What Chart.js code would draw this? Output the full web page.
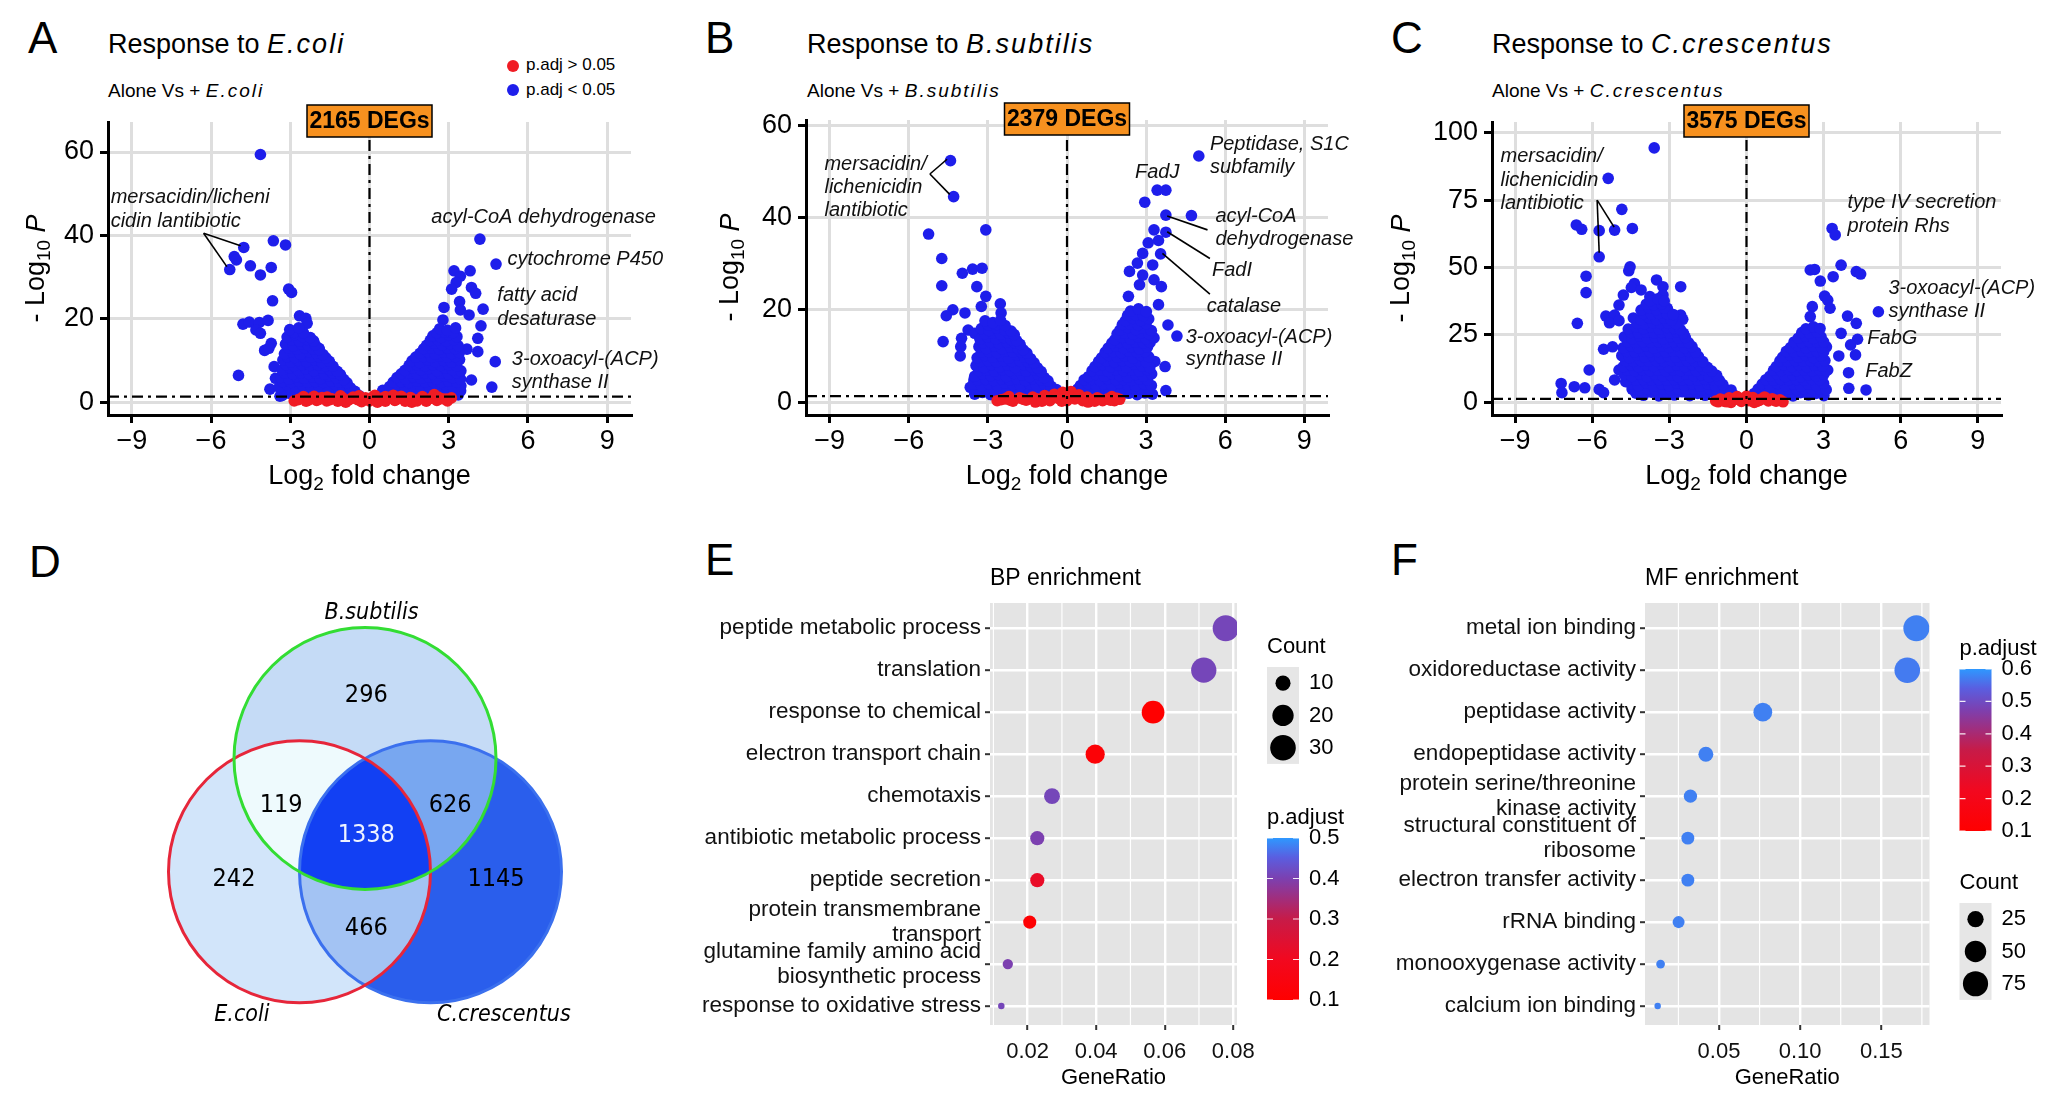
<!DOCTYPE html>
<html>
<head>
<meta charset="utf-8">
<script src="https://cdn.jsdelivr.net/npm/chart.js@4.4.1/dist/chart.umd.min.js"></script>
<style>
  body { margin: 0; background: #fff; }
  #fig { position: relative; width: 2048px; height: 1095px; overflow: hidden; background: #fff;
         font-family: "Liberation Sans", Arial, Helvetica, sans-serif; color: #000; }
  #fig canvas, #fig .t { position: absolute; }
  .t { white-space: nowrap; }
  .lt { font-size: 44px; height: 50px; line-height: 50px; }
  .ttl { font-size: 27px; height: 34px; line-height: 34px; }
  .sub { font-size: 19px; height: 24px; line-height: 24px; }
  .ttl i, .sub i { letter-spacing: 2px; }
  .leg { font-size: 17px; height: 22px; line-height: 22px; }
  .dot { width: 12px; height: 12px; border-radius: 50%; }
</style>
</head>
<body>
<div id="fig">
  <!-- panel headers -->
  <div class="t lt" style="left:28px;top:13px">A</div>
  <div class="t ttl" style="left:108px;top:27px">Response to <i>E.coli</i></div>
  <div class="t sub" style="left:108px;top:79px">Alone Vs + <i>E.coli</i></div>
  <div class="t dot" style="left:507px;top:60px;background:rgb(240,28,36)"></div>
  <div class="t leg" style="left:526px;top:54px">p.adj &gt; 0.05</div>
  <div class="t dot" style="left:507px;top:84px;background:rgb(30,30,235)"></div>
  <div class="t leg" style="left:526px;top:79px">p.adj &lt; 0.05</div>

  <div class="t lt" style="left:705px;top:13px">B</div>
  <div class="t ttl" style="left:807px;top:27px">Response to <i>B.subtilis</i></div>
  <div class="t sub" style="left:807px;top:79px">Alone Vs + <i>B.subtilis</i></div>

  <div class="t lt" style="left:1391px;top:13px">C</div>
  <div class="t ttl" style="left:1492px;top:27px">Response to <i>C.crescentus</i></div>
  <div class="t sub" style="left:1492px;top:79px">Alone Vs + <i>C.crescentus</i></div>

  <div class="t lt" style="left:29px;top:537px">D</div>
  <div class="t lt" style="left:705px;top:535px">E</div>
  <div class="t lt" style="left:1391px;top:535px">F</div>

  <canvas id="volA" width="680" height="520" style="left:0;top:0"></canvas>
  <canvas id="volB" width="690" height="520" style="left:680px;top:0"></canvas>
  <canvas id="volC" width="688" height="520" style="left:1360px;top:0"></canvas>
  <canvas id="venn" width="524" height="524" style="left:103px;top:572px"></canvas>
  <canvas id="dotBP" width="680" height="535" style="left:690px;top:560px"></canvas>
  <canvas id="dotMF" width="678" height="535" style="left:1370px;top:560px"></canvas>
</div>

<script>
// ---------- data: volcano plots (log2 fold change, -log10 P) ----------
const lfcTicks = [-9, -6, -3, 0, 3, 6, 9];
const degCounts = [2165, 2379, 3575];
const padjCut = 1.3; // -log10(0.05)

// A: E.coli
const ecoliSig = [
  [-4.13,59.4],[-4.76,37.1],[-3.64,38.7],[-3.18,37.7],[-5.12,34.9],[-5.04,34.1],[-5.29,31.8],[-4.51,32.7],
  [-3.72,32.3],[-4.13,30.5],[-3.06,27.1],[-2.95,26.3],[-3.67,24.3],[-4.79,18.7],[-4.55,19.2],[-4.17,19.1],
  [-3.84,19.6],[-4.30,17.3],[-4.13,16.5],[-3.72,14.1],[-3.97,12.4],[-3.81,12.9],[-4.96,6.4],[-3.61,8.5],
  [-3.56,5.7],[-3.77,3.1],[-3.39,1.4],[-2.65,20.7],[-2.41,20.1],[-2.36,18.9],[-2.16,14.5],[-1.91,12.9],
  [-3.30,1.6],[-3.02,2.1],[-2.71,1.5],[-2.43,1.9],[-2.12,1.7],[-1.80,2.2],[-1.52,1.5],[-1.21,1.8],[-0.93,1.6],[-0.64,2.0],[-0.38,1.5],
  [-3.25,2.9],[-2.95,2.7],[-2.65,3.0],[-2.35,2.8],[-2.05,2.9],[-1.75,2.7],[-1.45,3.0],[-1.15,2.8],[-0.85,2.7],[-0.55,2.6],
  [-3.42,3.6],[-3.12,4.1],[-2.80,3.7],[-2.52,4.0],[-2.20,3.5],[-1.92,3.9],[-1.61,3.6],[-1.30,4.2],[-1.01,3.7],[-0.72,3.4],
  [-3.28,4.9],[-2.97,4.7],[-2.66,5.0],[-2.35,4.8],[-2.05,4.9],[-1.75,4.7],[-1.45,5.0],[-1.15,4.8],[-0.85,4.6],
  [-3.36,5.9],[-3.05,5.5],[-2.76,6.1],[-2.47,5.7],[-2.14,6.0],[-1.86,5.6],[-1.54,6.2],[-1.26,5.8],[-0.97,5.4],
  [-3.20,6.9],[-2.90,6.7],[-2.60,7.0],[-2.30,6.8],[-2.00,6.9],[-1.70,6.7],[-1.40,7.0],[-1.10,6.6],
  [-3.31,7.7],[-3.01,8.2],[-2.69,7.6],[-2.41,8.0],[-2.10,7.5],[-1.79,8.1],[-1.50,7.7],[-1.22,7.4],
  [-3.15,8.9],[-2.85,8.7],[-2.55,9.0],[-2.25,8.8],[-1.95,8.9],[-1.65,8.7],[-1.38,8.6],
  [-3.28,10.1],[-2.98,9.6],[-2.70,10.0],[-2.38,9.7],[-2.08,10.2],[-1.80,9.5],[-1.52,9.8],
  [-3.12,10.9],[-2.82,10.7],[-2.52,11.0],[-2.22,10.8],[-1.92,10.9],[-1.65,10.6],
  [-3.22,11.6],[-2.91,12.0],[-2.62,11.5],[-2.30,12.1],[-2.01,11.7],[-1.76,11.4],
  [-3.05,12.9],[-2.75,12.7],[-2.45,13.0],[-2.15,12.8],[-1.90,12.6],
  [-3.18,13.9],[-2.88,13.5],[-2.59,14.0],[-2.31,13.6],[-2.06,13.8],
  [-2.95,14.9],[-2.65,14.7],[-2.35,15.0],[-2.12,14.7],
  [-3.12,15.6],[-2.81,16.1],[-2.52,15.7],[-2.24,15.5],[-2.85,16.7],[-2.50,16.6],[-3.02,17.4],[-2.68,17.8],
  [4.18,39.1],[4.79,33.1],[3.20,31.5],[3.81,31.5],[3.44,30.2],[3.28,28.7],[3.11,27.1],[3.86,27.5],
  [4.02,26.1],[4.30,22.3],[2.82,22.7],[3.41,24.1],[3.44,22.1],[4.22,18.3],[3.77,20.9],[4.10,15.3],
  [4.10,12.1],[4.76,9.7],[3.86,5.3],[4.63,3.6],[3.69,12.7],[2.78,19.7],
  [0.36,1.6],[0.66,2.0],[0.95,1.5],[1.24,1.9],[1.56,1.6],[1.85,2.1],[2.14,1.5],[2.46,1.8],[2.75,1.6],[3.04,2.0],[3.36,1.7],
  [0.50,2.8],[0.80,2.9],[1.10,2.7],[1.40,3.0],[1.70,2.8],[2.00,2.9],[2.30,2.7],[2.60,3.0],[2.90,2.8],[3.20,2.9],[3.45,2.7],
  [0.76,3.7],[1.05,4.1],[1.36,3.6],[1.64,3.9],[1.96,3.5],[2.24,4.0],[2.56,3.7],[2.85,4.2],[3.16,3.6],[3.46,3.9],
  [0.90,4.8],[1.20,4.9],[1.50,4.7],[1.80,5.0],[2.10,4.8],[2.40,4.9],[2.70,4.7],[3.00,5.0],[3.30,4.8],
  [1.04,5.9],[1.36,5.5],[1.65,6.1],[1.94,5.7],[2.26,6.0],[2.54,5.5],[2.86,6.2],[3.15,5.8],[3.45,5.5],
  [1.20,6.8],[1.50,6.9],[1.80,6.7],[2.10,7.0],[2.40,6.8],[2.70,6.9],[3.00,6.7],[3.30,7.0],
  [1.34,7.6],[1.66,8.1],[1.95,7.7],[2.24,8.0],[2.56,7.5],[2.85,8.2],[3.14,7.8],[3.46,7.5],
  [1.50,8.8],[1.80,8.9],[2.10,8.7],[2.40,9.0],[2.70,8.8],[3.00,8.9],[3.30,8.7],
  [1.61,9.9],[1.90,9.5],[2.21,10.1],[2.50,9.7],[2.81,10.0],[3.10,9.6],[3.41,10.2],
  [1.75,10.8],[2.05,10.9],[2.35,10.7],[2.65,11.0],[2.95,10.8],[3.25,10.9],
  [1.91,11.7],[2.21,12.1],[2.49,11.5],[2.80,12.0],[3.11,11.6],[3.40,11.9],
  [2.05,12.8],[2.35,12.9],[2.65,12.7],[2.95,13.0],[3.25,12.8],
  [2.16,13.6],[2.45,14.1],[2.76,13.7],[3.05,14.0],[3.36,13.5],
  [2.30,14.8],[2.60,14.9],[2.90,14.7],[3.20,15.0],
  [2.40,15.9],[2.71,15.5],[3.00,16.1],[3.31,15.7],[2.55,16.6],[2.85,16.8],[3.15,16.6],
  [2.66,17.6],[2.95,17.2],[3.26,17.8]
];
const ecoliNs = [
  [-2.85,0.3],[-2.62,0.8],[-2.40,0.2],[-2.20,0.9],[-2.00,0.4],[-1.80,1.1],[-1.62,0.3],[-1.42,0.8],
  [-1.20,0.2],[-1.02,1.0],[-0.82,0.4],[-0.62,1.2],[-0.45,0.6],[-0.30,0.1],[-0.15,1.0],[0.00,0.3],
  [0.12,1.2],[0.28,0.5],[0.44,0.9],[0.60,0.2],[0.78,1.1],[0.96,0.4],[1.15,0.9],[1.35,0.2],
  [1.55,1.1],[1.75,0.5],[1.95,0.9],[2.15,0.2],[2.35,1.0],[2.55,0.4],[2.75,0.8],[2.95,0.3],
  [3.10,1.0],[-2.50,1.3],[-1.10,1.5],[0.90,1.6],[2.45,1.8],[1.60,0.0],[-0.90,0.0],[0.30,0.0],
  [-2.70,0.6],[-2.30,0.5],[-1.90,0.7],[-1.50,0.6],[-1.10,0.5],[-0.70,0.8],[-0.40,1.5],[0.20,1.6],
  [0.60,1.3],[1.00,0.6],[1.40,0.6],[1.80,0.3],[2.20,0.6],[2.60,1.2],[2.90,0.7],[-2.10,1.4],
  [-1.60,1.2],[1.20,1.4],[2.00,1.3]
];
const ecoliNotes = [
  ['mersacidin/licheni', -9.8, 49.0], ['cidin lantibiotic', -9.8, 43.4],
  ['acyl-CoA dehydrogenase', 2.34, 44.3], ['cytochrome P450', 5.22, 34.2],
  ['fatty acid', 4.84, 25.5], ['desaturase', 4.84, 19.9],
  ['3-oxoacyl-(ACP)', 5.39, 10.3], ['synthase II', 5.39, 4.7]
];
const ecoliLinks = [[-6.28, 40.5, -4.88, 37.5], [-6.28, 40.5, -5.40, 32.5]];

// B: B.subtilis
const bsubSig = [
  [-4.42,52.3],[-4.30,44.5],[-5.25,36.4],[-3.08,37.3],[-4.75,31.1],[-3.97,27.9],[-3.58,28.8],[-3.22,29.0],
  [-4.75,25.2],[-3.42,25.0],[-4.33,20.0],[-4.58,18.7],[-3.87,19.3],[-3.25,20.7],[-3.08,22.9],[-2.53,21.3],
  [-2.50,19.3],[-4.70,13.1],[-3.75,15.6],[-4.00,13.8],[-4.03,12.0],[-4.05,10.0],[-3.50,14.9],[-3.67,3.2],[-3.53,4.8],
  [-3.50,1.7],[-3.21,2.1],[-2.90,1.6],[-2.61,2.0],[-2.30,1.5],[-2.01,1.9],[-1.70,1.6],[-1.41,2.1],[-1.10,1.5],[-0.81,1.9],[-0.52,1.6],[-0.26,2.0],
  [-3.35,2.8],[-3.05,2.9],[-2.75,2.7],[-2.45,3.0],[-2.15,2.8],[-1.85,2.9],[-1.55,2.7],[-1.25,3.0],[-0.95,2.8],[-0.65,2.9],[-0.40,2.7],
  [-3.55,3.9],[-3.24,3.5],[-2.96,4.0],[-2.64,3.6],[-2.35,4.1],[-2.04,3.7],[-1.76,3.5],[-1.44,4.0],[-1.16,3.6],[-0.86,3.9],[-0.60,3.4],
  [-3.38,4.8],[-3.08,4.9],[-2.78,4.7],[-2.48,5.0],[-2.18,4.8],[-1.88,4.9],[-1.58,4.7],[-1.28,5.0],[-0.98,4.8],[-0.72,4.6],
  [-3.50,5.6],[-3.21,6.1],[-2.89,5.7],[-2.61,6.0],[-2.30,5.5],[-2.01,6.2],[-1.69,5.8],[-1.41,5.5],[-1.10,6.0],[-0.86,5.3],
  [-3.35,6.8],[-3.05,6.9],[-2.75,6.7],[-2.45,7.0],[-2.15,6.8],[-1.85,6.9],[-1.55,6.7],[-1.25,7.0],[-0.98,6.6],
  [-3.45,7.9],[-3.14,7.5],[-2.86,8.1],[-2.55,7.6],[-2.24,8.0],[-1.96,7.5],[-1.64,8.1],[-1.36,7.7],[-1.12,7.4],
  [-3.28,8.8],[-2.98,8.9],[-2.68,8.7],[-2.38,9.0],[-2.08,8.8],[-1.78,8.9],[-1.48,8.7],[-1.25,8.5],
  [-3.41,9.6],[-3.10,10.1],[-2.81,9.7],[-2.49,10.0],[-2.21,9.5],[-1.90,10.2],[-1.61,9.7],[-1.38,9.4],
  [-3.25,10.8],[-2.95,10.9],[-2.65,10.7],[-2.35,11.0],[-2.05,10.8],[-1.75,10.9],[-1.52,10.6],
  [-3.34,12.0],[-3.06,11.6],[-2.74,12.1],[-2.46,11.5],[-2.14,11.9],[-1.86,11.6],[-1.66,11.3],
  [-3.18,12.8],[-2.88,12.9],[-2.58,12.7],[-2.28,13.0],[-1.98,12.8],[-1.78,12.5],
  [-3.30,13.6],[-3.01,14.1],[-2.70,13.7],[-2.40,14.0],[-2.11,13.5],[-1.91,13.3],
  [-3.12,14.8],[-2.82,14.9],[-2.52,14.7],[-2.22,15.0],[-2.00,14.6],
  [-3.25,15.9],[-2.95,15.5],[-2.66,16.0],[-2.35,15.6],[-2.12,15.4],[-2.98,16.7],[-2.68,16.8],[-2.35,16.6],
  [-3.11,17.6],[-2.81,17.2],[-2.52,17.7],
  [5.00,53.3],[3.42,45.9],[3.75,45.9],[2.95,43.3],[4.72,40.4],[3.75,40.5],[3.30,37.3],[3.75,36.8],
  [3.08,34.5],[3.47,35.0],[2.87,32.2],[3.55,32.1],[2.67,30.1],[3.25,29.7],[2.37,28.3],[2.87,27.5],
  [2.75,25.4],[3.30,26.5],[3.58,25.0],[3.47,21.1],[2.33,22.9],[3.83,16.7],[4.17,14.3],[3.72,7.7],
  [3.75,2.5],[3.33,8.8],[2.87,7.4],
  [0.26,1.6],[0.55,2.0],[0.86,1.5],[1.15,1.9],[1.44,1.6],[1.76,2.1],[2.05,1.5],[2.34,1.9],[2.66,1.6],[2.95,2.0],[3.24,1.7],
  [0.40,2.8],[0.70,2.9],[1.00,2.7],[1.30,3.0],[1.60,2.8],[1.90,2.9],[2.20,2.7],[2.50,3.0],[2.80,2.8],[3.10,2.9],
  [0.51,3.6],[0.80,4.0],[1.11,3.5],[1.40,3.9],[1.71,3.6],[2.00,4.1],[2.31,3.7],[2.60,3.5],[2.91,4.0],[3.20,3.6],
  [0.65,4.8],[0.95,4.9],[1.25,4.7],[1.55,5.0],[1.85,4.8],[2.15,4.9],[2.45,4.7],[2.75,5.0],[3.05,4.8],
  [0.81,5.5],[1.10,6.0],[1.41,5.6],[1.70,6.1],[2.01,5.7],[2.30,5.4],[2.61,6.0],[2.90,5.6],[3.21,6.1],
  [0.95,6.8],[1.25,6.9],[1.55,6.7],[1.85,7.0],[2.15,6.8],[2.45,6.9],[2.75,6.7],[3.05,7.0],
  [1.06,7.7],[1.35,8.1],[1.66,7.6],[1.95,8.0],[2.26,7.5],[2.55,8.2],[2.86,7.8],[3.14,7.5],
  [1.20,8.8],[1.50,8.9],[1.80,8.7],[2.10,9.0],[2.40,8.8],[2.70,8.9],[3.00,8.7],
  [1.31,9.6],[1.60,10.1],[1.91,9.7],[2.20,10.0],[2.51,9.5],[2.80,10.1],[3.10,9.8],
  [1.45,10.8],[1.75,10.9],[2.05,10.7],[2.35,11.0],[2.65,10.8],[2.95,10.9],
  [1.56,11.7],[1.85,12.1],[2.16,11.6],[2.45,12.0],[2.75,11.5],[3.05,11.9],
  [1.70,12.8],[2.00,12.9],[2.30,12.7],[2.60,13.0],[2.90,12.8],[3.15,12.9],
  [1.81,13.5],[2.10,14.0],[2.41,13.6],[2.70,14.1],[3.01,13.7],[3.30,13.9],
  [1.90,14.8],[2.20,14.9],[2.50,14.7],[2.80,15.0],[3.10,14.8],
  [2.01,15.6],[2.30,16.1],[2.61,15.7],[2.90,16.0],[3.20,15.5],
  [2.10,16.8],[2.40,16.9],[2.70,16.7],[3.00,17.0],
  [2.21,17.6],[2.50,18.1],[2.80,17.7],[3.10,18.0],[2.30,18.8],[2.60,18.9],[2.90,18.7],
  [2.41,19.7],[2.71,20.2],[3.01,19.6]
];
const bsubNs = [
  [-2.65,0.3],[-2.35,0.7],[-2.05,0.2],[-1.80,0.9],[-1.55,0.4],[-1.30,1.1],[-1.05,0.5],[-0.85,1.4],
  [-0.65,0.3],[-0.48,1.7],[-0.32,0.8],[-0.16,2.1],[0.00,1.2],[0.00,0.3],[0.15,2.3],[0.30,0.7],
  [0.45,1.6],[0.60,0.3],[0.76,1.1],[0.95,0.5],[1.15,0.9],[1.35,0.3],[1.55,0.7],[1.80,0.3],
  [2.00,0.6],[-0.20,0.2],[0.22,1.6],[-1.20,0.0],[0.80,0.0],[-2.20,1.2],[1.70,1.2],
  [-2.50,0.5],[-2.15,0.4],[-1.65,0.6],[-1.15,0.7],[-0.95,0.2],[-0.70,0.9],[-0.40,1.2],[0.05,2.0],
  [0.40,1.1],[0.65,0.9],[1.05,0.2],[1.25,0.6],[1.65,0.4],[1.90,0.8]
];
const bsubNotes = [
  ['mersacidin/', -9.2, 51.5], ['lichenicidin', -9.2, 46.5], ['lantibiotic', -9.2, 41.5],
  ['Peptidase, S1C', 5.42, 55.9], ['subfamily', 5.42, 50.8], ['FadJ', 2.58, 49.7],
  ['acyl-CoA', 5.63, 40.2], ['dehydrogenase', 5.63, 35.3], ['FadI', 5.5, 28.6],
  ['catalase', 5.3, 20.8], ['3-oxoacyl-(ACP)', 4.5, 14.1], ['synthase II', 4.5, 9.2]
];
const bsubLinks = [[-5.2, 49.4, -4.55, 52.6], [-5.2, 49.4, -4.45, 45.0],
  [3.8, 40.3, 5.33, 37.3], [3.8, 36.9, 5.42, 31.1], [3.62, 32.2, 5.42, 23.4]];

// C: C.crescentus
const ccreSig = [
  [-3.59,94.4],[-5.38,83.1],[-4.85,71.6],[-6.62,65.8],[-6.41,64.2],[-5.73,63.7],[-5.13,63.9],[-4.44,64.5],
  [-5.73,54.0],[-4.53,50.3],[-4.58,48.8],[-6.24,46.8],[-6.24,40.7],[-4.36,44.1],[-4.48,42.6],[-3.50,45.4],
  [-3.25,42.9],[-2.56,42.9],[-4.79,39.8],[-3.76,39.2],[-3.25,39.8],[-4.10,41.7],[-4.96,36.1],[-5.47,32.0],
  [-5.13,32.4],[-5.33,29.5],[-4.96,30.3],[-6.58,29.3],[-3.08,34.9],[-2.56,32.4],[-2.48,30.8],[-5.56,19.7],
  [-5.21,20.6],[-6.12,12.0],[-7.21,7.0],[-7.18,3.6],[-6.70,5.8],[-6.29,5.4],[-5.73,4.8],[-5.56,3.6],
  [-4.96,12.0],[-5.13,8.3],[-4.36,10.8],[-4.70,7.7],[-4.27,4.8],[-4.10,7.0],
  [-4.30,3.4],[-4.01,2.6],[-3.70,3.8],[-3.41,2.4],[-3.10,3.5],[-2.81,2.7],[-2.50,3.9],[-2.21,2.5],[-1.90,3.3],[-1.61,2.6],[-1.30,3.7],[-1.01,2.4],[-0.72,3.2],[-0.46,2.5],
  [-4.45,4.9],[-4.15,4.7],[-3.85,5.0],[-3.55,4.8],[-3.25,4.9],[-2.95,4.7],[-2.65,5.0],[-2.35,4.8],[-2.05,4.9],[-1.75,4.7],[-1.45,5.0],[-1.15,4.8],[-0.85,4.9],[-0.60,4.6],
  [-4.50,6.9],[-4.21,6.1],[-3.90,7.2],[-3.61,6.0],[-3.30,6.8],[-3.01,6.2],[-2.70,7.1],[-2.41,6.3],[-2.10,6.9],[-1.81,6.0],[-1.50,6.7],[-1.21,6.2],[-0.92,6.6],
  [-4.60,8.4],[-4.30,8.2],[-4.00,8.5],[-3.70,8.3],[-3.40,8.4],[-3.10,8.2],[-2.80,8.5],[-2.50,8.3],[-2.20,8.4],[-1.90,8.2],[-1.60,8.5],[-1.30,8.3],[-1.05,8.1],
  [-4.75,10.3],[-4.45,9.6],[-4.15,10.5],[-3.85,9.5],[-3.55,10.4],[-3.25,9.7],[-2.95,10.2],[-2.65,9.4],[-2.35,10.5],[-2.05,9.8],[-1.75,10.3],[-1.45,9.5],[-1.16,10.0],
  [-4.65,11.9],[-4.35,11.7],[-4.05,12.0],[-3.75,11.8],[-3.45,11.9],[-3.15,11.7],[-2.85,12.0],[-2.55,11.8],[-2.25,11.9],[-1.95,11.7],[-1.65,12.0],[-1.35,11.6],
  [-4.80,13.2],[-4.50,14.0],[-4.20,13.1],[-3.90,13.9],[-3.60,13.3],[-3.30,14.1],[-3.00,13.0],[-2.70,13.8],[-2.40,13.2],[-2.10,14.0],[-1.80,13.4],[-1.52,13.0],
  [-4.70,15.4],[-4.40,15.2],[-4.10,15.5],[-3.80,15.3],[-3.50,15.4],[-3.20,15.2],[-2.90,15.5],[-2.60,15.3],[-2.30,15.4],[-2.00,15.2],[-1.70,15.1],
  [-4.85,17.3],[-4.55,16.6],[-4.25,17.5],[-3.95,16.7],[-3.65,17.4],[-3.35,16.5],[-3.05,17.2],[-2.75,16.8],[-2.45,17.6],[-2.15,16.6],[-1.87,17.0],
  [-4.65,18.9],[-4.35,18.7],[-4.05,19.0],[-3.75,18.8],[-3.45,18.9],[-3.15,18.7],[-2.85,19.0],[-2.55,18.8],[-2.25,18.9],[-1.98,18.6],
  [-4.80,20.2],[-4.50,21.0],[-4.20,20.3],[-3.90,20.9],[-3.60,20.1],[-3.30,20.8],[-3.00,20.4],[-2.70,21.1],[-2.40,20.2],[-2.12,20.7],
  [-4.62,22.4],[-4.32,22.2],[-4.02,22.5],[-3.72,22.3],[-3.42,22.4],[-3.12,22.2],[-2.82,22.5],[-2.52,22.3],[-2.25,22.1],
  [-4.75,24.3],[-4.45,23.6],[-4.15,24.5],[-3.85,23.7],[-3.55,24.2],[-3.25,23.5],[-2.95,24.4],[-2.65,23.8],[-2.38,24.1],
  [-4.50,25.9],[-4.20,25.7],[-3.90,26.0],[-3.60,25.8],[-3.30,25.9],[-3.00,25.7],[-2.70,26.0],[-2.45,25.6],
  [-4.60,27.2],[-4.30,28.0],[-4.00,27.3],[-3.70,27.9],[-3.40,27.1],[-3.10,27.8],[-2.80,27.4],[-2.57,27.0],
  [-4.25,29.4],[-3.95,29.2],[-3.65,29.5],[-3.35,29.3],[-3.05,29.4],[-2.75,29.1],
  [-4.40,31.3],[-4.10,30.6],[-3.80,31.4],[-3.50,30.7],[-3.20,31.2],[-2.92,30.5],
  [-4.00,32.9],[-3.70,32.7],[-3.40,33.0],[-3.10,32.8],[-2.85,32.6],
  [-4.10,34.2],[-3.80,35.0],[-3.50,34.4],[-3.20,34.9],[-3.90,36.4],[-3.60,36.2],[-3.30,36.5],
  [-3.75,37.7],[-3.45,38.4],[-3.20,37.6],
  [3.33,64.5],[3.45,62.1],[3.68,50.9],[2.48,49.1],[2.65,49.3],[4.27,48.5],[4.44,47.6],[3.37,46.6],
  [2.87,45.0],[3.04,39.4],[3.16,37.9],[3.25,34.9],[2.56,35.5],[5.13,33.6],[3.93,32.0],[2.48,31.8],
  [4.27,29.3],[3.68,25.6],[4.32,23.4],[4.05,21.3],[4.24,17.6],[3.59,17.2],[3.16,12.0],[3.97,11.0],
  [3.98,5.2],[4.65,4.6],[2.73,21.9],[3.11,20.6],
  [0.30,3.3],[0.61,2.5],[0.90,3.7],[1.21,2.6],[1.50,3.4],[1.81,2.4],[2.10,3.6],[2.41,2.7],[2.70,3.3],[3.01,2.5],
  [0.45,4.9],[0.75,4.7],[1.05,5.0],[1.35,4.8],[1.65,4.9],[1.95,4.7],[2.25,5.0],[2.55,4.8],[2.85,4.9],[3.10,4.7],
  [0.61,6.8],[0.91,6.1],[1.20,7.0],[1.51,6.2],[1.80,6.9],[2.11,6.0],[2.40,6.7],[2.71,6.3],[3.00,7.0],
  [0.75,8.4],[1.05,8.2],[1.35,8.5],[1.65,8.3],[1.95,8.4],[2.25,8.2],[2.55,8.5],[2.85,8.3],
  [0.91,9.7],[1.20,10.4],[1.51,9.6],[1.80,10.2],[2.11,9.5],[2.40,10.3],[2.71,9.8],[3.01,10.4],
  [1.05,11.9],[1.35,11.7],[1.65,12.0],[1.95,11.8],[2.25,11.9],[2.55,11.7],[2.85,12.0],[3.10,11.8],
  [1.16,13.3],[1.45,14.0],[1.76,13.2],[2.05,13.9],[2.36,13.1],[2.65,13.8],[2.96,13.4],
  [1.30,15.4],[1.60,15.2],[1.90,15.5],[2.20,15.3],[2.50,15.4],[2.80,15.2],[3.05,15.5],
  [1.41,16.8],[1.70,17.5],[2.01,16.7],[2.30,17.4],[2.61,16.6],[2.90,17.2],
  [1.55,18.9],[1.85,18.7],[2.15,19.0],[2.45,18.8],[2.75,18.9],[3.00,18.7],
  [1.71,20.3],[2.00,21.0],[2.31,20.2],[2.60,20.8],[2.91,20.4],
  [1.85,22.4],[2.15,22.2],[2.45,22.5],[2.75,22.3],[3.00,22.4],
  [2.01,23.8],[2.30,24.5],[2.61,23.7],[2.90,24.3],[2.15,25.9],[2.45,25.7],[2.75,26.0],
  [2.31,27.3],[2.60,28.0],[2.86,27.4]
];
const ccreNs = [
  [-1.20,0.5],[-1.02,1.2],[-0.85,0.3],[-0.68,1.7],[-0.52,0.8],[-0.36,2.1],[-0.20,0.3],[-0.10,1.4],
  [0.00,2.3],[0.10,0.6],[0.25,1.8],[0.40,0.3],[0.55,1.1],[0.70,2.0],[0.85,0.5],[1.00,1.3],
  [1.15,0.4],[1.30,0.9],[1.42,0.2],[-0.60,0.0],[0.30,0.0],
  [-1.10,0.2],[-0.90,0.8],[-0.45,1.5],[-0.25,1.0],[0.15,1.5],[0.50,0.7],[0.80,1.3],[1.10,0.8],[-0.75,0.2]
];
const ccreNotes = [
  ['mersacidin/', -9.57, 91.3], ['lichenicidin', -9.57, 82.4], ['lantibiotic', -9.57, 73.8],
  ['type IV secretion', 3.93, 74.0], ['protein Rhs', 3.93, 65.4],
  ['3-oxoacyl-(ACP)', 5.52, 42.3], ['synthase II', 5.52, 33.6],
  ['FabG', 4.7, 23.7], ['FabZ', 4.62, 11.4]
];
const ccreLinks = [[-5.81, 75.0, -5.73, 55.5], [-5.81, 75.0, -5.15, 65.0]];

// ---------- data: Venn diagram ----------
const vennSets = ['E.coli', 'B.subtilis', 'C.crescentus'];
const vennKeys = ['E', 'B', 'C', 'EB', 'EC', 'BC', 'EBC'];
const vennCounts = [242, 296, 1145, 119, 466, 626, 1338];

// ---------- data: GO enrichment ----------
const bpTerms = ['peptide metabolic process', 'translation', 'response to chemical', 'electron transport chain',
  'chemotaxis', 'antibiotic metabolic process', 'peptide secretion', ['protein transmembrane', 'transport'],
  ['glutamine family amino acid', 'biosynthetic process'], 'response to oxidative stress'];
const bpRatio = [0.0778, 0.0714, 0.0566, 0.0397, 0.0271, 0.0228, 0.0228, 0.0206, 0.0142, 0.0123];
const bpCount = [31, 29, 23, 16, 11, 9, 9, 8, 6, 5];
const bpPadj = [0.41, 0.41, 0.10, 0.12, 0.41, 0.40, 0.22, 0.11, 0.40, 0.41];
const bpTicks = [0.02, 0.04, 0.06, 0.08];

const mfTerms = ['metal ion binding', 'oxidoreductase activity', 'peptidase activity', 'endopeptidase activity',
  ['protein serine/threonine', 'kinase activity'], ['structural constituent of', 'ribosome'],
  'electron transfer activity', 'rRNA binding', 'monooxygenase activity', 'calcium ion binding'];
const mfRatio = [0.1716, 0.1660, 0.0770, 0.0419, 0.0324, 0.0308, 0.0308, 0.0251, 0.0140, 0.0122];
const mfCount = [81, 78, 36, 20, 15, 14, 14, 12, 7, 6];
const mfPadj = [0.575, 0.57, 0.575, 0.575, 0.575, 0.575, 0.575, 0.575, 0.575, 0.575];
const mfTicks = [0.05, 0.10, 0.15];

// ---------- style ----------
const FONT = '"Liberation Sans", Arial, Helvetica, sans-serif';
const VFONT = '"DejaVu Sans Condensed", "DejaVu Sans", Verdana, sans-serif';
const BLUE = 'rgb(30,30,235)';
const RED = 'rgb(240,28,36)';
const GRID = '#dedede';
const PANEL_BG = '#e4e4e4';
const PT_R = 5.8;
const padjStops = [[0, [255, 0, 0]], [0.25, [242, 8, 31]], [0.5, [199, 27, 72]],
  [0.75, [124, 64, 176]], [0.88, [90, 94, 224]], [1, [46, 152, 255]]];
const DOT_MIN = 6.5, DOT_MAX = 26;

Chart.defaults.font.family = FONT;

const fixW = w => s => { s.width = w; s.paddingTop = 0; s.paddingBottom = 0; };
const fixH = h => s => { s.height = h; s.paddingLeft = 0; s.paddingRight = 0; };
const setTicks = vals => s => { s.ticks = vals.map(v => ({ value: v })); };
const fmtNeg = v => (v < 0 ? '\u2212' + Math.abs(v) : String(v));
const rgb = c => `rgb(${c.map(Math.round).join(',')})`;

function padjColor(p, lim) {
  const t = Math.min(1, Math.max(0, (p - lim[0]) / (lim[1] - lim[0])));
  for (let i = 1; i < padjStops.length; i++) {
    const [t1, c1] = padjStops[i], [t0, c0] = padjStops[i - 1];
    if (t <= t1) {
      const f = (t - t0) / (t1 - t0);
      return rgb(c0.map((v, k) => v + (c1[k] - v) * f));
    }
  }
  return rgb(padjStops[padjStops.length - 1][1]);
}

function sizeR(v, lo, hi) {
  return (DOT_MIN + (DOT_MAX - DOT_MIN) * Math.sqrt((v - lo) / (hi - lo))) / 2;
}

// draw mixed-style text, parts = [{t, f, dy}]
function richText(ctx, parts, x, y, align) {
  let w = 0;
  parts.forEach(p => { ctx.font = p.f; p.w = ctx.measureText(p.t).width; w += p.w; });
  let cx = align === 'center' ? x - w / 2 : x;
  ctx.textAlign = 'left';
  ctx.textBaseline = 'middle';
  parts.forEach(p => { ctx.font = p.f; ctx.fillText(p.t, cx, y + (p.dy || 0)); cx += p.w; });
}

// ---------- volcano plots ----------
const volcanoCfg = {
  volA: { sig: ecoliSig, ns: ecoliNs, deg: degCounts[0], notes: ecoliNotes, links: ecoliLinks,
          yMin: -3.1, yMax: 67.2, yTicks: [0, 20, 40, 60], yW: 108, padR: 49, top: 122, yTitleX: 37 },
  volB: { sig: bsubSig, ns: bsubNs, deg: degCounts[1], notes: bsubNotes, links: bsubLinks,
          yMin: -2.8, yMax: 61.1, yTicks: [0, 20, 40, 60], yW: 126, padR: 42, top: 120, yTitleX: 51 },
  volC: { sig: ccreSig, ns: ccreNs, deg: degCounts[2], notes: ccreNotes, links: ccreLinks,
          yMin: -4.7, yMax: 104, yTicks: [0, 25, 50, 75, 100], yW: 132, padR: 47, top: 122, yTitleX: 42 }
};

const volcanoPlugin = {
  id: 'volcano',
  afterDatasetsDraw(chart) {
    const cfg = volcanoCfg[chart.canvas.id];
    const { ctx, chartArea: a, scales: { x, y } } = chart;
    ctx.save();
    // threshold lines
    ctx.strokeStyle = '#000';
    ctx.lineWidth = 2.2;
    ctx.setLineDash([11, 5, 3, 5]);
    const x0 = x.getPixelForValue(0);
    ctx.beginPath(); ctx.moveTo(x0, a.bottom); ctx.lineTo(x0, a.top); ctx.stroke();
    const yc = y.getPixelForValue(padjCut);
    ctx.beginPath(); ctx.moveTo(a.left, yc); ctx.lineTo(a.right, yc); ctx.stroke();
    ctx.setLineDash([]);
    // label connectors
    ctx.lineWidth = 1.6;
    cfg.links.forEach(l => {
      ctx.beginPath();
      ctx.moveTo(x.getPixelForValue(l[0]), y.getPixelForValue(l[1]));
      ctx.lineTo(x.getPixelForValue(l[2]), y.getPixelForValue(l[3]));
      ctx.stroke();
    });
    // gene labels
    ctx.fillStyle = '#111';
    ctx.font = 'italic 20px ' + FONT;
    ctx.textAlign = 'left';
    ctx.textBaseline = 'middle';
    cfg.notes.forEach(n => ctx.fillText(n[0], x.getPixelForValue(n[1]), y.getPixelForValue(n[2])));
    // DEG count box
    const bw = 125, bt = a.top - 17, bh = 32;
    ctx.fillStyle = '#f7911f';
    ctx.fillRect(x0 - bw / 2, bt, bw, bh);
    ctx.lineWidth = 1.5;
    ctx.strokeRect(x0 - bw / 2, bt, bw, bh);
    ctx.fillStyle = '#000';
    ctx.font = 'bold 23px ' + FONT;
    ctx.textAlign = 'center';
    ctx.fillText(cfg.deg + ' DEGs', x0, bt + bh / 2 + 1);
    ctx.restore();
  },
  afterDraw(chart) {
    const cfg = volcanoCfg[chart.canvas.id];
    const { ctx, chartArea: a } = chart;
    ctx.save();
    ctx.fillStyle = '#000';
    richText(ctx, [{ t: 'Log', f: '27px ' + FONT }, { t: '2', f: '19px ' + FONT, dy: 8 },
      { t: ' fold change', f: '27px ' + FONT }], (a.left + a.right) / 2, a.bottom + 62, 'center');
    ctx.translate(cfg.yTitleX, (a.top + a.bottom) / 2);
    ctx.rotate(-Math.PI / 2);
    richText(ctx, [{ t: '- Log', f: '27px ' + FONT }, { t: '10', f: '19px ' + FONT, dy: 8 },
      { t: ' ', f: '27px ' + FONT }, { t: 'P', f: 'italic 27px ' + FONT }], 0, 0, 'center');
    ctx.restore();
  }
};

function volcano(id) {
  const cfg = volcanoCfg[id];
  const canvas = document.getElementById(id);
  return new Chart(canvas, {
    type: 'scatter',
    data: {
      datasets: [
        { label: 'p.adj > 0.05', data: cfg.ns, backgroundColor: RED, pointBackgroundColor: RED,
          pointRadius: PT_R, pointBorderWidth: 0 },
        { label: 'p.adj < 0.05', data: cfg.sig, backgroundColor: BLUE, pointBackgroundColor: BLUE,
          pointRadius: PT_R, pointBorderWidth: 0 }
      ]
    },
    options: {
      responsive: false, animation: false, events: [],
      layout: { padding: { left: 0, right: cfg.padR, top: cfg.top, bottom: canvas.height - 415 - 45 } },
      plugins: { legend: { display: false }, tooltip: { enabled: false } },
      scales: {
        x: {
          type: 'linear', min: -9.9, max: 9.9,
          afterBuildTicks: setTicks(lfcTicks), afterFit: fixH(45),
          grid: { color: GRID, lineWidth: 3, tickColor: '#000', tickLength: 8, tickWidth: 3 },
          border: { display: true, color: '#000', width: 3 },
          ticks: { color: '#000', font: { size: 27 }, padding: 2, maxRotation: 0, autoSkip: false, callback: fmtNeg }
        },
        y: {
          type: 'linear', min: cfg.yMin, max: cfg.yMax,
          afterBuildTicks: setTicks(cfg.yTicks), afterFit: fixW(cfg.yW),
          grid: { color: GRID, lineWidth: 3, tickColor: '#000', tickLength: 8, tickWidth: 3 },
          border: { display: true, color: '#000', width: 3 },
          ticks: { color: '#000', font: { size: 27 }, padding: 6, autoSkip: false, callback: fmtNeg }
        }
      }
    },
    plugins: [volcanoPlugin]
  });
}

volcano('volA');
volcano('volB');
volcano('volC');

// ---------- Venn diagram ----------
// circle layout in units of the circle radius
const vennCircles = [[-0.5, -0.289], [0, 0.577], [0.5, -0.289]];
const vennLine = ['#e6263a', '#33dd33', '#3b70ee'];
const vennFill = ['#d2e5fa', '#c5dbf6', '#2a5eec', '#eefafd', '#a3c3f3', '#78a7f0', '#1240f3'];
const vennCountPos = [[-1.0, -0.35], [0.01, 1.06], [1.0, -0.35], [-0.64, 0.22], [0.01, -0.72], [0.65, 0.22], [0.01, -0.01]];
const vennSetPos = [[-0.94, -1.38], [0.05, 1.69], [1.06, -1.38]];

const vennPlugin = {
  id: 'venn',
  beforeDatasetsDraw(chart) {
    const { ctx, scales: { x, y }, width, height } = chart;
    const r = x.getPixelForValue(1) - x.getPixelForValue(0);
    const circ = vennCircles.map(c => ({ x: x.getPixelForValue(c[0]), y: y.getPixelForValue(c[1]) }));
    const letters = ['E', 'B', 'C'];
    vennKeys.forEach((key, k) => {
      ctx.save();
      circ.forEach((c, i) => {
        const p = new Path2D();
        if (!key.includes(letters[i])) p.rect(-10, -10, width + 20, height + 20);
        p.arc(c.x, c.y, r, 0, Math.PI * 2);
        ctx.clip(p, 'evenodd');
      });
      ctx.fillStyle = vennFill[k];
      ctx.fillRect(0, 0, width, height);
      ctx.restore();
    });
    ctx.save();
    ctx.lineWidth = 3;
    [2, 0, 1].forEach(i => {
      ctx.strokeStyle = vennLine[i];
      ctx.beginPath();
      ctx.arc(circ[i].x, circ[i].y, r, 0, Math.PI * 2);
      ctx.stroke();
    });
    ctx.textAlign = 'center';
    ctx.textBaseline = 'middle';
    ctx.font = '25px ' + VFONT;
    vennCounts.forEach((n, k) => {
      ctx.fillStyle = vennKeys[k] === 'EBC' ? '#eef3ff' : '#000';
      ctx.fillText(String(n), x.getPixelForValue(vennCountPos[k][0]), y.getPixelForValue(vennCountPos[k][1]));
    });
    ctx.fillStyle = '#000';
    ctx.font = 'italic 23px ' + VFONT;
    vennSets.forEach((s, i) => ctx.fillText(s, x.getPixelForValue(vennSetPos[i][0]), y.getPixelForValue(vennSetPos[i][1])));
    ctx.restore();
  }
};

new Chart(document.getElementById('venn'), {
  type: 'scatter',
  data: { datasets: [{ data: vennCountPos.map(p => ({ x: p[0], y: p[1] })), pointRadius: 0 }] },
  options: {
    responsive: false, animation: false, events: [],
    layout: { padding: 0 },
    plugins: { legend: { display: false }, tooltip: { enabled: false } },
    scales: { x: { display: false, min: -2, max: 2 }, y: { display: false, min: -2, max: 2 } }
  },
  plugins: [vennPlugin]
});

// ---------- GO dot plots ----------
const dotCfg = {
  dotBP: { title: 'BP enrichment', terms: bpTerms, ratio: bpRatio, count: bpCount, padj: bpPadj,
           xMin: 0.009, xMax: 0.0811, xTicks: bpTicks, minor: [0.01, 0.03, 0.05, 0.07],
           yW: 300, padR: 133, lim: [0.1, 0.5], cBreaks: [0.1, 0.2, 0.3, 0.4, 0.5],
           sBreaks: [10, 20, 30], sizeTop: 44, colorTop: 215 },
  dotMF: { title: 'MF enrichment', terms: mfTerms, ratio: mfRatio, count: mfCount, padj: mfPadj,
           xMin: 0.0044, xMax: 0.1797, xTicks: mfTicks, minor: [0.025, 0.075, 0.125, 0.175],
           yW: 275, padR: 118.5, lim: [0.1, 0.6], cBreaks: [0.1, 0.2, 0.3, 0.4, 0.5, 0.6],
           sBreaks: [25, 50, 75], sizeTop: 280, colorTop: 46 }
};

const dotPlugin = {
  id: 'dotplot',
  beforeDraw(chart) {
    const cfg = dotCfg[chart.canvas.id];
    const { ctx, chartArea: a, scales: { x } } = chart;
    ctx.save();
    ctx.fillStyle = PANEL_BG;
    ctx.fillRect(a.left, a.top, a.width, a.height);
    ctx.strokeStyle = '#fff';
    ctx.lineWidth = 1.2;
    cfg.minor.forEach(v => {
      const px = x.getPixelForValue(v);
      if (px < a.left || px > a.right) return;
      ctx.beginPath(); ctx.moveTo(px, a.top); ctx.lineTo(px, a.bottom); ctx.stroke();
    });
    ctx.restore();
  },
  afterDraw(chart) {
    const cfg = dotCfg[chart.canvas.id];
    const { ctx, chartArea: a } = chart;
    const lo = Math.min(...cfg.count), hi = Math.max(...cfg.count);
    const L = a.right + 30;
    ctx.save();
    ctx.fillStyle = '#000';
    ctx.textAlign = 'left';
    ctx.textBaseline = 'middle';
    ctx.font = '23px ' + FONT;
    ctx.fillText(cfg.title, a.left, a.top - 24);
    ctx.font = '22px ' + FONT;
    // size legend
    let T = a.top + cfg.sizeTop;
    ctx.fillText('Count', L, T);
    const kTop = T + 20, k = 32.3;
    ctx.fillStyle = '#e6e6e6';
    ctx.fillRect(L, kTop, 32, k * cfg.sBreaks.length);
    cfg.sBreaks.forEach((b, i) => {
      const cy = kTop + k * i + k / 2;
      ctx.fillStyle = '#000';
      ctx.beginPath(); ctx.arc(L + 16, cy, sizeR(b, lo, hi), 0, Math.PI * 2); ctx.fill();
      ctx.fillText(String(b), L + 42, cy);
    });
    // colour bar
    T = a.top + cfg.colorTop;
    ctx.fillText('p.adjust', L, T);
    const bTop = T + 20, bH = 162, bBot = bTop + bH;
    const g = ctx.createLinearGradient(0, bBot, 0, bTop);
    padjStops.forEach(s => g.addColorStop(s[0], rgb(s[1])));
    ctx.fillStyle = g;
    ctx.fillRect(L, bTop, 32, bH);
    ctx.strokeStyle = 'rgba(255,255,255,0.9)';
    ctx.lineWidth = 1.2;
    cfg.cBreaks.forEach(b => {
      const yy = bBot - (b - cfg.lim[0]) / (cfg.lim[1] - cfg.lim[0]) * bH;
      ctx.beginPath();
      ctx.moveTo(L, yy); ctx.lineTo(L + 6, yy);
      ctx.moveTo(L + 26, yy); ctx.lineTo(L + 32, yy);
      ctx.stroke();
      ctx.fillStyle = '#000';
      ctx.fillText(b.toFixed(1), L + 42, yy);
    });
    ctx.restore();
  }
};

function dotPlot(id) {
  const cfg = dotCfg[id];
  const canvas = document.getElementById(id);
  const lo = Math.min(...cfg.count), hi = Math.max(...cfg.count);
  return new Chart(canvas, {
    type: 'bubble',
    data: {
      datasets: [{
        label: cfg.title,
        data: cfg.terms.map((t, i) => ({ x: cfg.ratio[i], y: i, r: sizeR(cfg.count[i], lo, hi) })),
        backgroundColor: cfg.padj.map(p => padjColor(p, cfg.lim)),
        borderWidth: 0
      }]
    },
    options: {
      responsive: false, animation: false, events: [],
      layout: { padding: { left: 0, right: cfg.padR, top: 43, bottom: canvas.height - 465 - 66 } },
      plugins: { legend: { display: false }, tooltip: { enabled: false } },
      scales: {
        x: {
          type: 'linear', min: cfg.xMin, max: cfg.xMax,
          afterBuildTicks: setTicks(cfg.xTicks), afterFit: fixH(66),
          grid: { color: '#fff', lineWidth: 2.4, tickColor: '#333', tickLength: 5, tickWidth: 2 },
          border: { display: false },
          ticks: { color: '#111', font: { size: 22 }, padding: 9, maxRotation: 0, autoSkip: false,
                   callback: v => v.toFixed(2) },
          title: { display: true, text: 'GeneRatio', color: '#000', font: { size: 22 }, padding: 0 }
        },
        y: {
          type: 'linear', min: -0.6, max: 9.45, reverse: true,
          afterBuildTicks: setTicks(cfg.terms.map((t, i) => i)), afterFit: fixW(cfg.yW),
          grid: { color: '#fff', lineWidth: 2.4, tickColor: '#333', tickLength: 5, tickWidth: 2 },
          border: { display: false },
          ticks: { color: '#111', font: { size: 22.5, lineHeight: 1.1 }, padding: 4, autoSkip: false,
                   callback: v => cfg.terms[v] }
        }
      }
    },
    plugins: [dotPlugin]
  });
}

dotPlot('dotBP');
dotPlot('dotMF');
</script>
</body>
</html>
